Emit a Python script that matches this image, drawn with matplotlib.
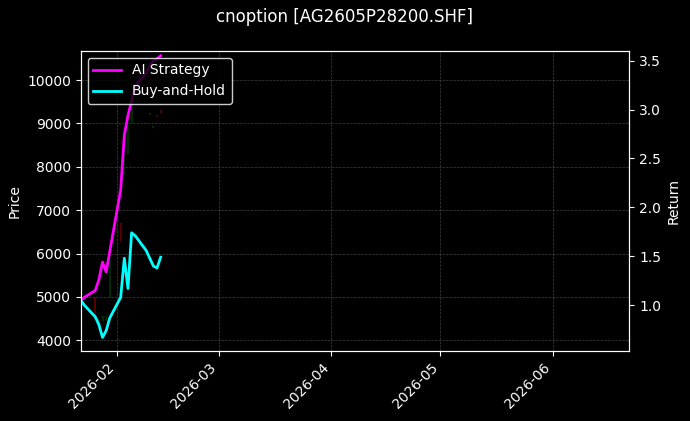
import matplotlib
matplotlib.use("Agg")
import matplotlib.pyplot as plt
import matplotlib.dates as mdates
import pandas as pd

dates = pd.to_datetime(["2026-01-22","2026-01-23","2026-01-26","2026-01-27","2026-01-28","2026-01-29",
                        "2026-01-30","2026-02-02","2026-02-03","2026-02-04","2026-02-05","2026-02-06",
                        "2026-02-09","2026-02-10","2026-02-11","2026-02-12","2026-02-13"])
strategy = [1.05,1.08,1.15,1.26,1.44,1.34,1.55,2.18,2.74,2.94,3.09,3.24,3.37,3.45,3.50,3.52,3.55]
buyhold = [1.05,1.00,0.88,0.80,0.67,0.74,0.87,1.08,1.48,1.17,1.74,1.71,1.56,1.48,1.40,1.38,1.49]
c_open  = [4850,4900,5000,4500,4450,4450,5000,6700,7800,8300,9000,9600,9900,9200,8900,9200,9300]
c_close = [4900,5000,4500,4300,4550,4550,6200,6300,8300,9000,9600,9900,9800,9250,8950,9150,9250]

plt.style.use("dark_background")
fig, ax = plt.subplots(figsize=(6.9, 4.21), dpi=100)
fig.patch.set_facecolor("black")
ax.set_facecolor("black")
for d, o, c in zip(dates, c_open, c_close):
    col = "red" if c < o else "green"
    ax.vlines(d, min(o, c), max(o, c), color=col, linewidth=1.2, alpha=0.4)
ax.set_ylim(3750, 10670)
ax.set_ylabel("Price")
ax.grid(True, linestyle="--", linewidth=0.5, color="gray", alpha=0.5)

ax2 = ax.twinx()
ax2.plot(dates, strategy, color="#ff00ff", linewidth=2, label="AI Strategy")
ax2.plot(dates, buyhold, color="cyan", linewidth=2, label="Buy-and-Hold")
ax2.set_ylim(0.53, 3.60)
ax2.set_ylabel("Return")
ax2.legend(loc="upper left", facecolor="black", edgecolor="white")

ax.set_xlim(pd.Timestamp("2026-01-22"), pd.Timestamp("2026-06-22"))
ax.xaxis.set_major_locator(mdates.MonthLocator())
ax.xaxis.set_major_formatter(mdates.DateFormatter("%Y-%m"))
plt.setp(ax.get_xticklabels(), rotation=45, ha="right")
fig.suptitle("cnoption [AG2605P28200.SHF]")
fig.subplots_adjust(left=0.117, right=0.912, top=0.879, bottom=0.166)
fig.savefig("out.png", dpi=100, facecolor="black")
